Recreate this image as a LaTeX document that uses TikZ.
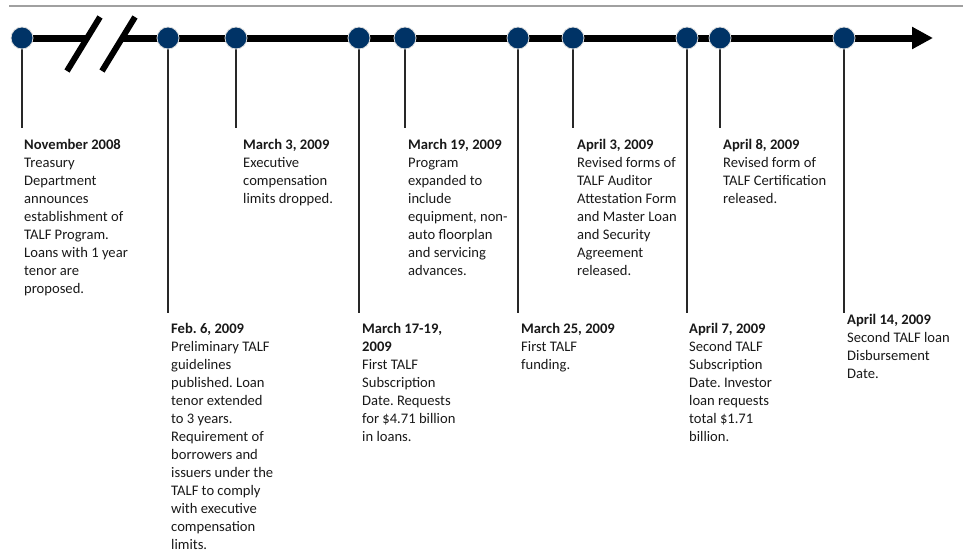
\documentclass[tikz,border=0pt]{standalone}
\usepackage{fontspec}
\setmainfont{Carlito}
\usetikzlibrary{arrows.meta,backgrounds}
\definecolor{dotblue}{RGB}{0,51,102}
\definecolor{rulegray}{RGB}{160,160,160}
\definecolor{tickcol}{RGB}{40,40,40}
\newcommand{\evt}[2]{\begin{tabular}[t]{@{}l@{}}\textbf{#1}\\#2\end{tabular}}
\frenchspacing
\begin{document}
\begin{tikzpicture}[x=1pt,y=-1pt,
  dotnode/.style={circle, fill=dotblue, draw=white!75!gray, line width=0.8pt, minimum size=22pt, inner sep=0pt},
  evtext/.style={anchor=base west, inner sep=0pt, font=\fontsize{14.6}{18}\selectfont, text=black!90},
  tickline/.style={draw=tickcol, line width=1.2pt},
  mainline/.style={draw=black, line width=7pt},
  slashline/.style={draw=black, line width=6pt},
  topline/.style={draw=rulegray, line width=2pt}]
\useasboundingbox (0,0) rectangle (963,554);
% top rule
\coordinate (r1) at (9,6);
\coordinate (r2) at (963,6);
\draw[topline] (r1) -- (r2);
% dots
\foreach \n/\x in {1/22,2/168,3/236,4/359,5/405,6/518,7/573,8/687,9/720,10/844}
  \node[dotnode] (d\n) at (\x,38) {};
% break and arrow coordinates
\coordinate (b1) at (87,38);
\coordinate (b2) at (122,38);
\coordinate (tip) at (933,38);
\coordinate (s1a) at (67,71);  \coordinate (s1b) at (100,17);
\coordinate (s2a) at (102,71); \coordinate (s2b) at (135,17);
% tick ends
\foreach \n/\x/\y in {1/22/128,2/168/313,3/236/128,4/359/313,5/405/128,6/518/313,7/573/128,8/687/313,9/720/128,10/844/313}
  \coordinate (e\n) at (\x,\y);
\begin{scope}[on background layer]
  \draw[mainline] (d1.center) -- (b1);
  \draw[mainline, -{Triangle[length=21pt,width=21pt]}] (b2) -- (tip);
  \foreach \n in {1,...,10} \draw[tickline] (d\n.center) -- (e\n);
\end{scope}
\draw[slashline] (s1a) -- (s1b);
\draw[slashline] (s2a) -- (s2b);
% texts
\node[evtext] (t1) at (24,149) {\evt{November 2008}{Treasury\\Department\\announces\\establishment of\\TALF Program.\\Loans with 1 year\\tenor are\\proposed.}};
\node[evtext] (t3) at (243,149) {\evt{March 3, 2009}{Executive\\compensation\\limits dropped.}};
\node[evtext] (t5) at (408,149) {\evt{March 19, 2009}{Program\\expanded to\\include\\equipment, non-\\auto floorplan\\and servicing\\advances.}};
\node[evtext] (t7) at (577,149) {\evt{April 3, 2009}{Revised forms of\\TALF Auditor\\Attestation Form\\and Master Loan\\and Security\\Agreement\\released.}};
\node[evtext] (t9) at (723,149) {\evt{April 8, 2009}{Revised form of\\TALF Certification\\released.}};
\node[evtext] (t2) at (171,333) {\evt{Feb. 6, 2009}{Preliminary TALF\\guidelines\\published. Loan\\tenor extended\\to 3 years.\\Requirement of\\borrowers and\\issuers under the\\TALF to comply\\with executive\\compensation\\limits.}};
\node[evtext] (t4) at (362,333) {\evt{March 17-19,}{\textbf{2009}\\First TALF\\Subscription\\Date. Requests\\for \$4.71 billion\\in loans.}};
\node[evtext] (t6) at (521,333) {\evt{March 25, 2009}{First TALF\\funding.}};
\node[evtext] (t8) at (689,333) {\evt{April 7, 2009}{Second TALF\\Subscription\\Date. Investor\\loan requests\\total \$1.71\\billion.}};
\node[evtext] (t10) at (847,324) {\evt{April 14, 2009}{Second TALF loan\\Disbursement\\Date.}};
\end{tikzpicture}
\end{document}
